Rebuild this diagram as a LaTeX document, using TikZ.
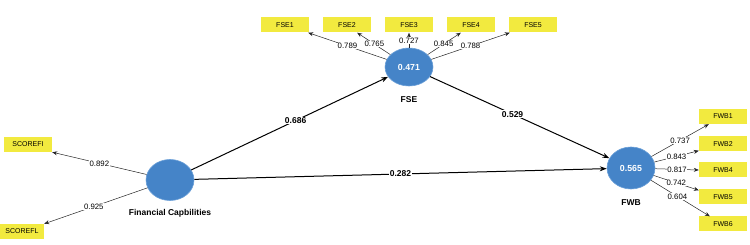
\documentclass[tikz,border=0pt]{standalone}
\usepackage{fontspec}
\setmainfont{Liberation Sans}
\usetikzlibrary{arrows.meta,calc,shapes.geometric}
\definecolor{lv}{HTML}{4584C8}
\definecolor{lvb}{HTML}{6A9FD8}
\definecolor{ind}{HTML}{F2EA3F}
\tikzset{
  latent/.style={ellipse, fill=lv, draw=lvb, line width=0.6pt, minimum width=48pt, minimum height=40pt, inner sep=0pt, text=white, font=\fontsize{8.8}{10}\selectfont\bfseries},
  indic/.style={rectangle, fill=ind, minimum width=48pt, minimum height=15pt, inner sep=0pt, font=\fontsize{7}{8}\selectfont},
  lname/.style={font=\fontsize{8.5}{10}\selectfont\bfseries},
  outer/.style={draw=black!85, line width=0.5pt, -{Stealth[length=5pt,width=4pt]}},
  inner/.style={draw=black, line width=1pt, -{Stealth[length=7pt,width=5pt]}},
  olab/.style={fill=white, inner sep=0.6pt, font=\fontsize{7.8}{9}\selectfont},
  ilab/.style={fill=white, inner sep=0.8pt, font=\fontsize{8.5}{10}\selectfont\bfseries},
}
\begin{document}
\begin{tikzpicture}[x=1pt,y=-1pt]
\useasboundingbox (0,0) rectangle (750,245);
% latent variables
\node[latent, minimum width=48pt, minimum height=38pt] (FSE) at (409,67) {0.471};
\node[lname] (FSEn) at (409,100) {FSE};
\node[latent, minimum width=48pt, minimum height=41pt] (FC) at (170,180) {};
\node[lname] (FCn) at (170,213) {Financial Capbilities};
\node[latent, minimum width=48pt, minimum height=42pt] (FWB) at (631,168) {0.565};
\node[lname] (FWBn) at (631,203) {FWB};
% FSE indicators
\node[indic] (FSE1) at (285,25) {FSE1};
\node[indic] (FSE2) at (347,25) {FSE2};
\node[indic] (FSE3) at (409,25) {FSE3};
\node[indic] (FSE4) at (471,25) {FSE4};
\node[indic] (FSE5) at (533,25) {FSE5};
% FC indicators
\node[indic] (SFI) at (28,144.5) {SCOREFI};
\node[indic, minimum width=44pt] (SFL) at (22,231.5) {SCOREFL};
% FWB indicators
\node[indic] (FWB1) at (723,116.5) {FWB1};
\node[indic] (FWB2) at (723,144) {FWB2};
\node[indic] (FWB4) at (723,170) {FWB4};
\node[indic] (FWB5) at (723,197) {FWB5};
\node[indic] (FWB6) at (723,224) {FWB6};
% target points
\coordinate (t1) at ($(FSE1.south east)+(-1,0)$);
\coordinate (t2) at ($(FSE2.south west)!0.71!(FSE2.south east)$);
\coordinate (t3) at (FSE3.south);
\coordinate (t4) at ($(FSE4.south west)!0.29!(FSE4.south east)$);
\coordinate (t5) at ($(FSE5.south west)+(1,0)$);
\coordinate (s1) at (SFI.south east);
\coordinate (s2) at (SFL.north east);
\coordinate (w1) at ($(FWB1.south west)+(10,0)$);
\coordinate (w2) at ($(FWB2.south west)+(0,-1)$);
\coordinate (w4) at (FWB4.west);
\coordinate (w5) at ($(FWB5.north west)+(0,1)$);
\coordinate (w6) at ($(FWB6.north west)+(11,0)$);
% outer loadings
\draw[outer] (FSE) -- (t1) node[olab, pos=0.5] {0.789};
\draw[outer] (FSE) -- (t2) node[olab, pos=0.48] {0.765};
\draw[outer] (FSE) -- (t3) node[olab, pos=0.47] {0.727};
\draw[outer] (FSE) -- (t4) node[olab, pos=0.48] {0.845};
\draw[outer] (FSE) -- (t5) node[olab, pos=0.5] {0.788};
\draw[outer] (FC) -- (s1) node[olab, pos=0.5] {0.892};
\draw[outer] (FC) -- (s2) node[olab, pos=0.52] {0.925};
\draw[outer] (FWB) -- (w1) node[olab, pos=0.5] {0.737};
\draw[outer] (FWB) -- (w2) node[olab, pos=0.5] {0.843};
\draw[outer] (FWB) -- (w4) node[olab, pos=0.5] {0.817};
\draw[outer] (FWB) -- (w5) node[olab, pos=0.5] {0.742};
\draw[outer] (FWB) -- (w6) node[olab, pos=0.45] {0.604};
% inner paths
\draw[inner] (FC) -- (FSE) node[ilab, pos=0.53] {0.686};
\draw[inner] (FSE) -- (FWB) node[ilab, pos=0.46] {0.529};
\draw[inner] (FC) -- (FWB) node[ilab, pos=0.5] {0.282};
\end{tikzpicture}
\end{document}
